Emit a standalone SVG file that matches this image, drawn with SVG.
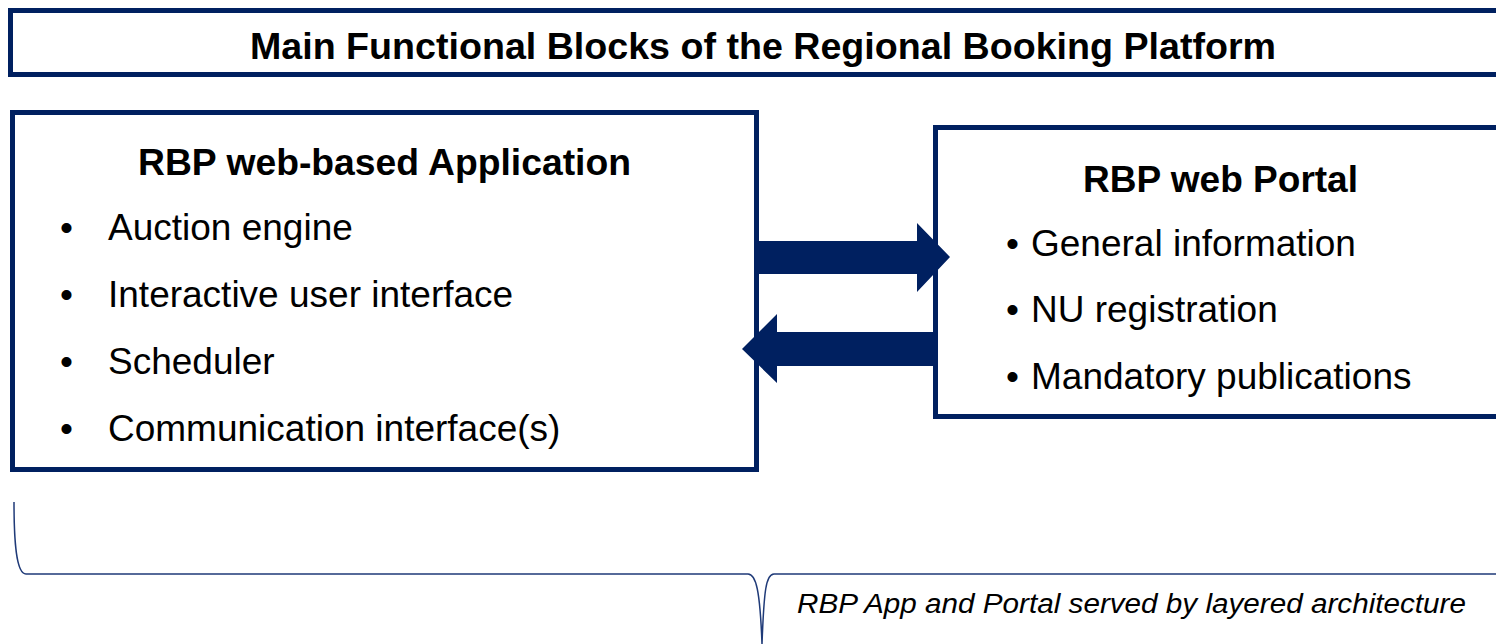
<svg xmlns="http://www.w3.org/2000/svg" width="1496" height="644" viewBox="0 0 1496 644">
<style>
.box{fill:#fff;stroke:#002060;stroke-width:5}
.t{font-family:"Liberation Sans",Arial,sans-serif;fill:#000}
.b{font-weight:bold}
.body{font-size:37px}
.arrow{fill:#002060}
.brace{fill:none;stroke:#1f3a78;stroke-width:1.5}
</style>
<rect width="1496" height="644" fill="#fff"/>
<g id="title">
<rect class="box" x="10.5" y="10.5" width="1500" height="64"/>
<text class="t b" x="763" y="59" font-size="37" text-anchor="middle" textLength="1026" lengthAdjust="spacingAndGlyphs">Main Functional Blocks of the Regional Booking Platform</text>
</g>
<g id="app">
<rect class="box" x="12.5" y="112.5" width="744" height="357"/>
<text class="t b" x="384.5" y="175" font-size="37" text-anchor="middle" textLength="493" lengthAdjust="spacingAndGlyphs">RBP web-based Application</text>
<g class="t body">
<text x="60" y="240">•</text><text x="108" y="240">Auction engine</text>
<text x="60" y="307">•</text><text x="108" y="307">Interactive user interface</text>
<text x="60" y="374">•</text><text x="108" y="374">Scheduler</text>
<text x="60" y="441">•</text><text x="108" y="441">Communication interface(s)</text>
</g>
</g>
<g id="portal">
<rect class="box" x="935.5" y="127.5" width="600" height="289"/>
<text class="t b" x="1220.5" y="192" font-size="37" text-anchor="middle" textLength="275" lengthAdjust="spacingAndGlyphs">RBP web Portal</text>
<g class="t body">
<text x="1006" y="256">•</text><text x="1031" y="256">General information</text>
<text x="1006" y="322">•</text><text x="1031" y="322">NU registration</text>
<text x="1006" y="389">•</text><text x="1031" y="389">Mandatory publications</text>
</g>
</g>
<g id="connectors">
<polygon class="arrow" points="758,241 917,241 917,223 950,257 917,292 917,274 758,274"/>
<polygon class="arrow" points="937,332 777,332 777,314 742,349 777,383 777,366 937,366"/>
</g>
<g id="brace">
<path class="brace" d="M14,502 C14,540 16,574 26,574 L748,574 C756,574 760,590 762,644 C764,590 766,574 774,574 L1496,574"/>
<text class="t" x="797" y="613" font-size="27" font-style="italic" textLength="669" lengthAdjust="spacingAndGlyphs">RBP App and Portal served by layered architecture</text>
</g>
</svg>
